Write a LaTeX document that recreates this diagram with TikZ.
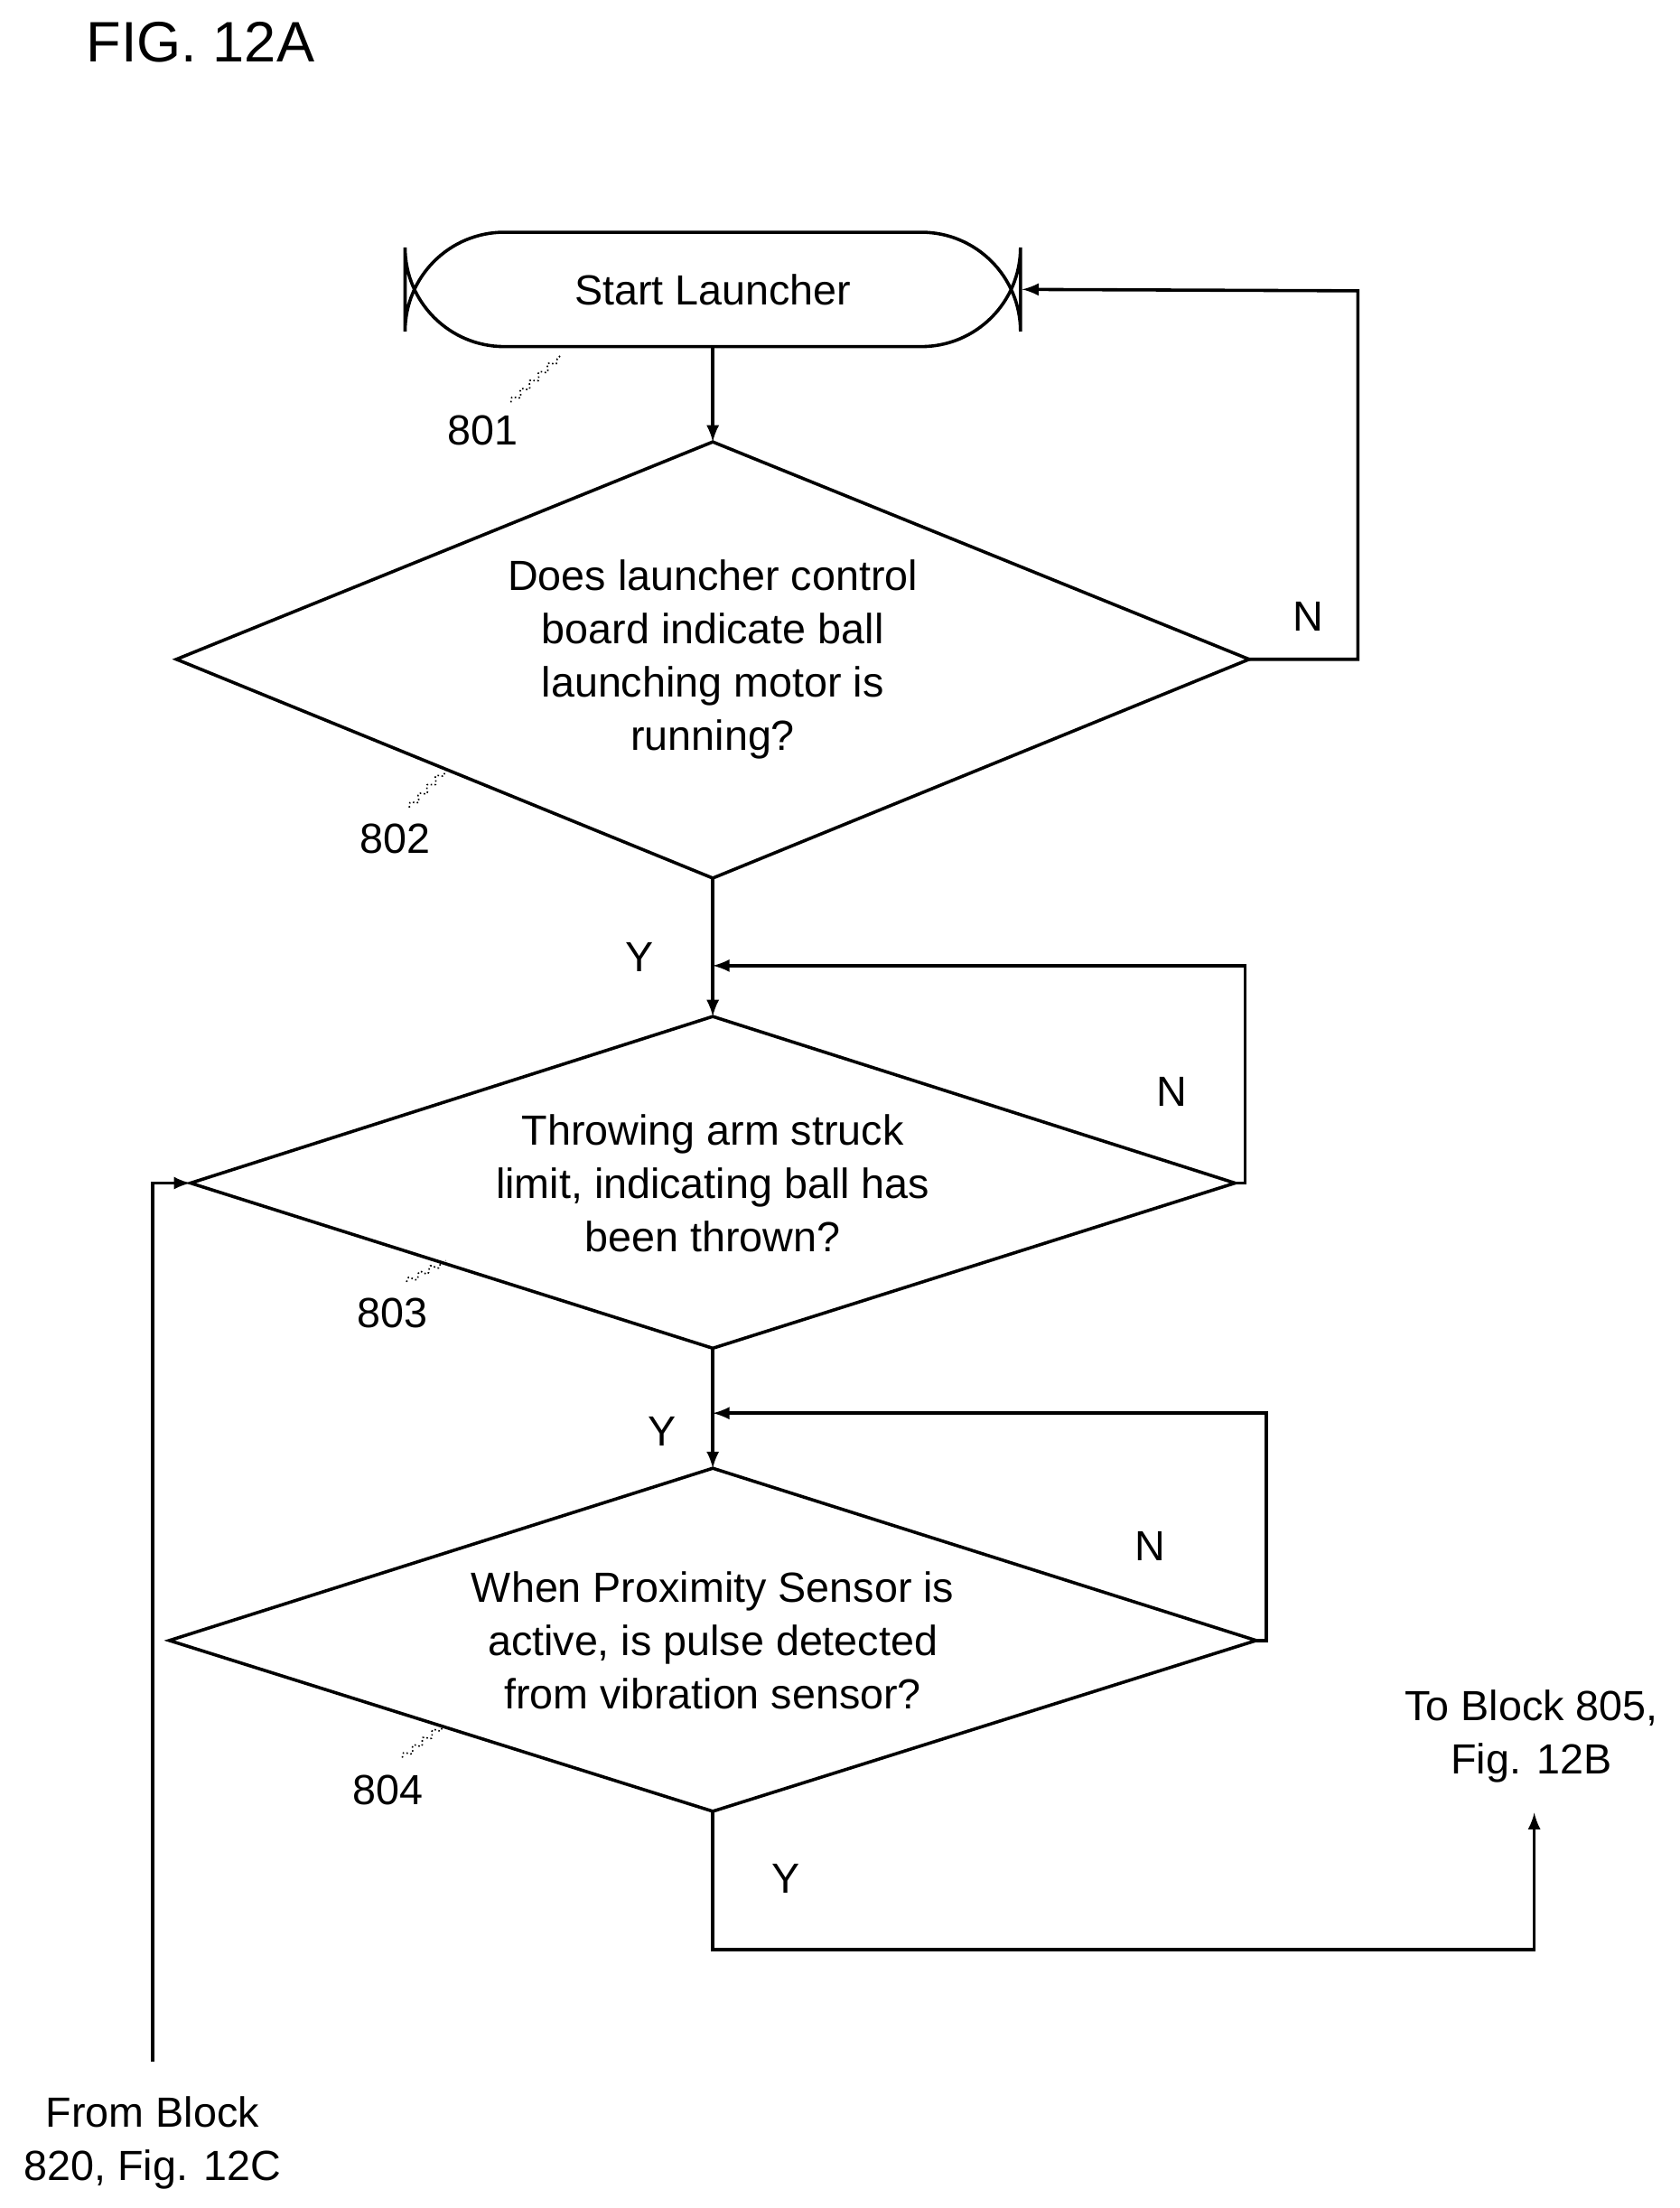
\documentclass[tikz,border=0pt]{standalone}
\usepackage{fontspec}
\setmainfont{Liberation Sans}
\usetikzlibrary{decorations.pathmorphing}
\begin{document}
\begin{tikzpicture}[x=0.02cm,y=-0.02cm,line width=1.3pt,
    txt/.style={font=\fontsize{17}{21.5}\selectfont, align=center},
    arr/.style={-latex},
    wiggle/.style={line width=0.6pt, densely dotted, decorate, decoration={snake, amplitude=1.2pt, segment length=5pt}}]
    \useasboundingbox (0,0) rectangle (1190,1564);

    \node[font=\fontsize{23}{27}\selectfont] (fig) at (142,30) {FIG. 12A};

    % start terminal
    \node[draw, rounded corners=40, minimum width=436*0.02cm, minimum height=81*0.02cm, txt] (start) at (505,205) {Start Launcher};

    % diamond corners
    \foreach \n/\l/\r/\t/\b/\c in {d1/125/885/313/622/467, d2/135/875/720/955/838, d3/120/890/1040/1283/1162} {
        \coordinate (\n l) at (\l,\c);
        \coordinate (\n r) at (\r,\c);
        \coordinate (\n t) at (505,\t);
        \coordinate (\n b) at (505,\b);
        \draw (\n t) -- (\n r) -- (\n b) -- (\n l) -- cycle;
    }

    \node[txt] (q1) at (505,467) {Does launcher control\\board indicate ball\\launching motor is\\running?};
    \node[txt] (q2) at (505,838) {Throwing arm struck\\limit, indicating ball has\\been thrown?};
    \node[txt] (q3) at (505,1162) {When Proximity Sensor is\\active, is pulse detected\\from vibration sensor?};

    % reference numbers
    \node[txt] (n801) at (342,305) {801};
    \node[txt] (n802) at (280,594) {802};
    \node[txt] (n803) at (278,930) {803};
    \node[txt] (n804) at (275,1268) {804};
    \draw[wiggle] (362,285) -- (397,252);
    \draw[wiggle] (290,572) -- (316,545);
    \draw[wiggle] (288,908) -- (316,893);
    \draw[wiggle] (285,1245) -- (314,1222);

    % flow
    \draw[arr] (start) -- (d1t);
    \coordinate (j1) at (505,684);
    \coordinate (j2) at (505,1001);
    \draw (d1b) -- (j1);
    \draw[arr] (j1) -- (d2t);
    \draw (d2b) -- (j2);
    \draw[arr] (j2) -- (d3t);
    \node[txt] (y1) at (453,678) {Y};
    \node[txt] (y2) at (469,1014) {Y};
    \node[txt] (y3) at (557,1331) {Y};

    % no loops
    \draw[arr] (d1r) -- (962,467) -- (962,206) -- (start.east);
    \draw[arr] (d2r) -- (882,838) -- (882,684) -- (j1);
    \draw[arr] (d3r) -- (897,1162) -- (897,1001) -- (j2);
    \node[txt] (no1) at (927,437) {N};
    \node[txt] (no2) at (830,773) {N};
    \node[txt] (no3) at (815,1095) {N};

    % off-page connectors
    \node[txt] (to) at (1085,1230) {To Block 805,\\Fig. 12B};
    \node[txt] (from) at (108,1518) {From Block\\820, Fig. 12C};
    \coordinate (toend) at (1087,1284);
    \coordinate (fromend) at (108,1460);
    \draw[arr] (d3b) -- (505,1381) -- (1087,1381) -- (toend);
    \draw[arr] (fromend) -- (108,838) -- (d2l);
\end{tikzpicture}
\end{document}
